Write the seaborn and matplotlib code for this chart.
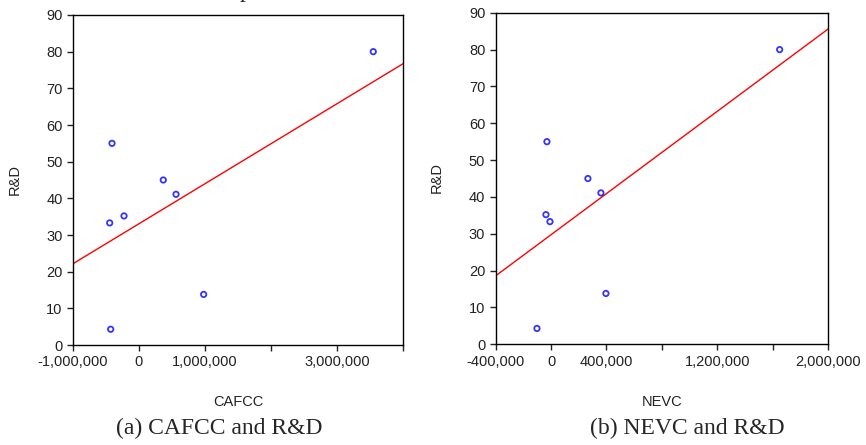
import numpy as np
import matplotlib
matplotlib.use("Agg")
import matplotlib.pyplot as plt
import seaborn as sns

# --- DATA ---
rd = [55.0, 35.2, 45.0, 41.1, 80.0, 33.3, 4.3, 13.8]
cafcc = [-409000, -227000, 368000, 561000, 3550000, -444000, -429000, 980000]
nevc = [-30000, -37000, 266000, 360000, 1651000, -8000, -102000, 396000]

cafcc_ticks = [-1000000, 0, 1000000, 2000000, 3000000, 4000000]
cafcc_labels = ["-1,000,000", "0", "1,000,000", "", "3,000,000", ""]
nevc_ticks = [-400000, 0, 400000, 800000, 1200000, 1600000, 2000000]
nevc_labels = ["-400,000", "0", "400,000", "", "1,200,000", "", "2,000,000"]
rd_ticks = [0, 10, 20, 30, 40, 50, 60, 70, 80, 90]

captions = ["(a) CAFCC and R&D", "(b) NEVC and R&D"]

sns.set_style("ticks")
plt.rcParams["font.family"] = ["Liberation Sans", "DejaVu Sans"]

fig = plt.figure(figsize=(8.66, 4.45), dpi=100)
ax_a = fig.add_axes([0.0843, 0.2247, 0.381, 0.7416])
ax_b = fig.add_axes([0.5724, 0.2263, 0.3837, 0.745])

panels = [
    (ax_a, cafcc, "CAFCC", cafcc_ticks, cafcc_labels),
    (ax_b, nevc, "NEVC", nevc_ticks, nevc_labels),
]

for ax, xs, name, ticks, labels in panels:
    ax.set_xlim(ticks[0], ticks[-1])
    ax.set_ylim(0, 90)
    sns.regplot(x=np.array(xs), y=np.array(rd), ax=ax, ci=None, truncate=False,
                color="blue",
                scatter_kws=dict(facecolors="none", edgecolors="blue", s=15, linewidths=1.3, zorder=3),
                line_kws=dict(color="red", lw=1.0))
    ax.set_xlim(ticks[0], ticks[-1])
    ax.set_ylim(0, 90)
    ax.set_xticks(ticks)
    ax.set_xticklabels(labels)
    ax.set_yticks(rd_ticks)
    ax.tick_params(axis="both", direction="out", length=4, width=1, labelsize=10.5,
                   colors="#222222", labelcolor="#222222")
    for sp in ax.spines.values():
        sp.set_visible(True)
        sp.set_color("black")
        sp.set_linewidth(1.0)
    ax.set_xlabel(name, fontsize=10.5, color="#222222", va="top")
    ax.xaxis.set_label_coords(0.5, -0.152)
    ax.set_ylabel("R&D", fontsize=10.5, color="#222222")
    ax.yaxis.set_label_coords(-0.155, 0.503)

fig.text(219 / 866, 1 - 428 / 445, captions[0], family=["Liberation Serif", "DejaVu Serif"],
         fontsize=17, ha="center", va="center")
fig.text(687 / 866, 1 - 428 / 445, captions[1], family=["Liberation Serif", "DejaVu Serif"],
         fontsize=17, ha="center", va="center")
# clipped caption remnant at the very top (only its descender is visible)
fig.text(245 / 866, 1 + 3 / 445, "p", family=["Liberation Serif", "DejaVu Serif"],
         fontsize=17, ha="center", va="baseline")

fig.savefig("out.png", dpi=100)
